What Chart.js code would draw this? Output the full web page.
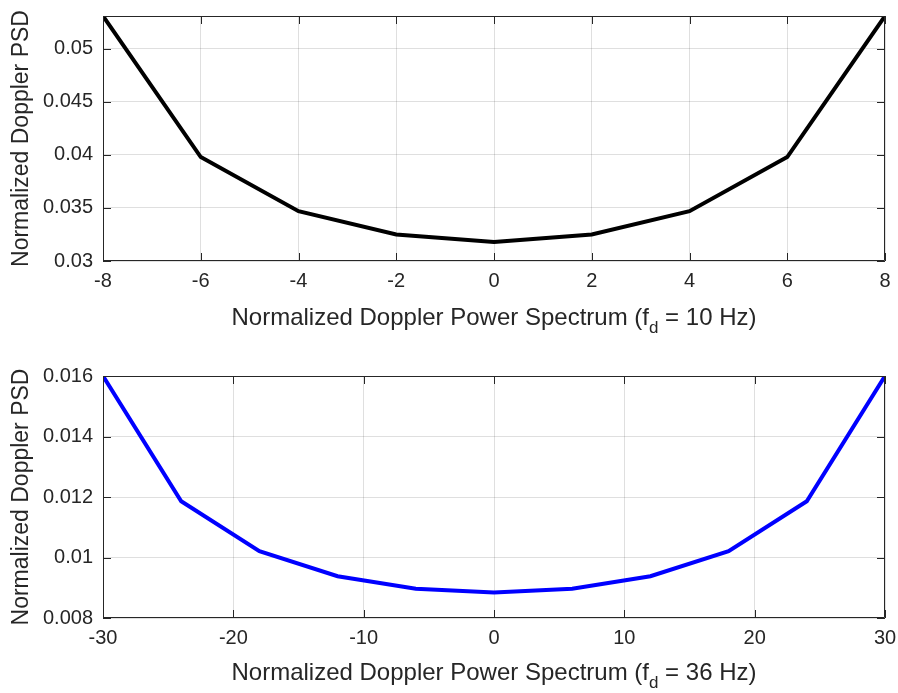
<!DOCTYPE html>
<html>
<head>
<meta charset="utf-8">
<script src="https://cdn.jsdelivr.net/npm/chart.js@4.4.1/dist/chart.umd.min.js"></script>
<style>
body { margin:0; background:#fff; width:898px; height:693px; position:relative; overflow:hidden; font-family:"Liberation Sans", Arial, sans-serif; }
canvas { position:absolute; left:0; }
.xlabel { position:absolute; left:103px; width:782px; text-align:center; font-size:24px; color:#262626; line-height:1; white-space:nowrap; }
.xlabel sub { font-size:17px; vertical-align:-0.45em; line-height:0; }
</style>
</head>
<body>
<canvas id="c1" width="898" height="350" style="top:0"></canvas>
<canvas id="c2" width="898" height="343" style="top:350px"></canvas>
<div class="xlabel" style="top:305px">Normalized Doppler Power Spectrum (f<sub>d</sub> = 10 Hz)</div>
<div class="xlabel" style="top:660px">Normalized Doppler Power Spectrum (f<sub>d</sub> = 36 Hz)</div>
<script>
// top subplot, fd = 10 Hz
const freq10 = [-8, -6, -4, -2, 0, 2, 4, 6, 8];
const psd10 = [0.0531, 0.0398, 0.0347, 0.0325, 0.0318, 0.0325, 0.0347, 0.0398, 0.0531];
const xTicks10 = [-8, -6, -4, -2, 0, 2, 4, 6, 8];
const yTicks10 = [0.03, 0.035, 0.04, 0.045, 0.05];

// bottom subplot, fd = 36 Hz
const freq36 = [-30, -24, -18, -12, -6, 0, 6, 12, 18, 24, 30];
const psd36 = [0.0160, 0.01186, 0.01021, 0.00938, 0.00897, 0.00884, 0.00897, 0.00938, 0.01021, 0.01186, 0.0160];
const xTicks36 = [-30, -20, -10, 0, 10, 20, 30];
const yTicks36 = [0.008, 0.01, 0.012, 0.014, 0.016];

const axisColor = '#262626';
const gridColor = 'rgba(38,38,38,0.15)';
const fontFam = '"Liberation Sans", Arial, Helvetica, sans-serif';

// matlab style box with inward ticks
const frame = {
    id: 'frame',
    afterDraw(chart) {
        const { ctx, chartArea: a, scales: { x, y } } = chart;
        ctx.save();
        ctx.strokeStyle = axisColor;
        ctx.lineWidth = 1;
        ctx.beginPath();
        ctx.rect(a.left + 0.5, a.top + 0.5, a.right - a.left - 1, a.bottom - a.top - 1);
        x.ticks.forEach((t) => {
            let px = Math.round(x.getPixelForValue(t.value)) + 0.5;
            ctx.moveTo(px, a.bottom); ctx.lineTo(px, a.bottom - 8);
            ctx.moveTo(px, a.top); ctx.lineTo(px, a.top + 8);
        });
        y.ticks.forEach((t) => {
            let py = Math.round(y.getPixelForValue(t.value)) + 0.5;
            ctx.moveTo(a.left, py); ctx.lineTo(a.left + 8, py);
            ctx.moveTo(a.right, py); ctx.lineTo(a.right - 8, py);
        });
        ctx.stroke();
        ctx.restore();
    },
};

function makeChart(el_id, xs, ys, color, xTicks, yTicks, yMin, yMax, padTop, xHeight) {
    new Chart(document.getElementById(el_id), {
        type: 'line',
        data: {
            datasets: [{
                data: xs.map((v, i) => ({ x: v, y: ys[i] })),
                borderColor: color,
                borderWidth: 4,
                pointRadius: 0,
                tension: 0,
                fill: false,
            }],
        },
        options: {
            responsive: false,
            animation: false,
            devicePixelRatio: 1,
            layout: { padding: { top: padTop, right: 13, left: 0, bottom: 0 } },
            plugins: { legend: { display: false }, tooltip: { enabled: false } },
            scales: {
                x: {
                    type: 'linear',
                    min: xTicks[0],
                    max: xTicks[xTicks.length - 1],
                    afterBuildTicks: (s) => { s.ticks = xTicks.map((v) => ({ value: v })); },
                    afterFit: (s) => { s.height = xHeight; s.paddingLeft = 0; s.paddingRight = 0; },
                    grid: { color: gridColor, drawTicks: false },
                    border: { display: false },
                    ticks: {
                        color: axisColor,
                        font: { family: fontFam, size: 20 },
                        padding: 8,
                        maxRotation: 0,
                        callback: (v) => String(v),
                    },
                },
                y: {
                    min: yMin,
                    max: yMax,
                    afterBuildTicks: (s) => { s.ticks = yTicks.map((v) => ({ value: v })); },
                    afterFit: (s) => { s.width = 103; s.paddingTop = 0; s.paddingBottom = 0; },
                    grid: { color: gridColor, drawTicks: false },
                    border: { display: false },
                    ticks: {
                        color: axisColor,
                        font: { family: fontFam, size: 20 },
                        padding: 10,
                        callback: (v) => String(v),
                    },
                    title: {
                        display: true,
                        text: 'Normalized Doppler PSD',
                        color: axisColor,
                        font: { family: fontFam, size: 23 },
                        padding: { top: 8, bottom: 0 },
                    },
                },
            },
        },
        plugins: [frame],
    });
}

makeChart('c1', freq10, psd10, '#000000', xTicks10, yTicks10, 0.03, 0.0531, 16, 89);
makeChart('c2', freq36, psd36, '#0000ff', xTicks36, yTicks36, 0.008, 0.016, 26, 75);
</script>
</body>
</html>
